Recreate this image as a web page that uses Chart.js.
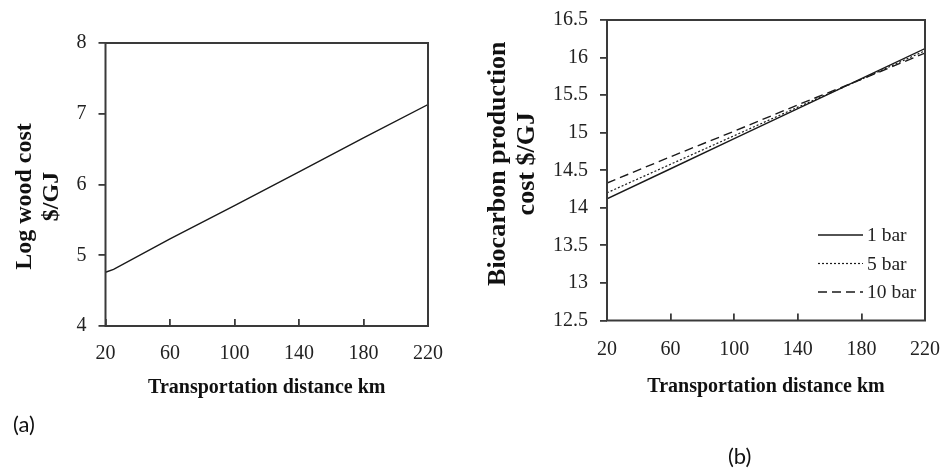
<!DOCTYPE html>
<html><head><meta charset="utf-8">
<script src="https://cdn.jsdelivr.net/npm/chart.js@4.4.0/dist/chart.umd.min.js"></script>
<style>
html,body{margin:0;padding:0;background:#fff;}
body{width:943px;height:469px;position:relative;overflow:hidden;}
#wa{position:absolute;left:0;top:0;width:470px;height:469px;}
#wb{position:absolute;left:470px;top:0;width:473px;height:469px;}
.pl{position:absolute;font-family:Lato,"Open Sans",sans-serif;font-size:22px;color:#111;line-height:1;}
</style></head><body>
<div id="wa"><canvas id="ca"></canvas></div>
<div id="wb"><canvas id="cb"></canvas></div>
<div class="pl" style="left:13px;top:413px;">(a)</div>
<div class="pl" style="left:728px;top:445px;">(b)</div>
<script>
// ---- data ----
const distanceA = [20, 25, 60, 100, 140, 180, 220];
const logWoodCost = [4.76, 4.80, 5.23, 5.70, 6.18, 6.66, 7.13];
const distanceB = [20, 60, 100, 140, 180, 220];
const cost1bar = [14.12, 14.52, 14.92, 15.32, 15.72, 16.12];
const cost5bar = [14.20, 14.58, 14.96, 15.34, 15.71, 16.09];
const cost10bar = [14.33, 14.68, 15.02, 15.37, 15.71, 16.06];
const seriesNamesB = ['1 bar', '5 bar', '10 bar'];
const xTickLabels = ['20', '60', '100', '140', '180', '220'];
const yTickLabelsA = ['4', '5', '6', '7', '8'];
const yTickLabelsB = ['12.5', '13', '13.5', '14', '14.5', '15', '15.5', '16', '16.5'];

const pts = (xs, ys) => xs.map((x, i) => ({x: x, y: ys[i]}));
const SERIF = '"Liberation Serif", Tinos, "Times New Roman", "DejaVu Serif", serif';
const FRAME = '#3a3a3a';

const framePlugin = {
  id: 'frame',
  afterDatasetsDraw(chart) {
    const {ctx, chartArea: a} = chart;
    ctx.save();
    ctx.strokeStyle = FRAME;
    ctx.lineWidth = 2;
    ctx.strokeRect(a.left, a.top, a.right - a.left, a.bottom - a.top);
    ctx.restore();
  }
};

const legendPlugin = {
  id: 'legendB',
  afterDraw(chart) {
    const ctx = chart.ctx;
    ctx.save();
    ctx.font = '19.5px ' + SERIF;
    ctx.textBaseline = 'middle';
    ctx.fillStyle = '#222';
    chart.data.datasets.forEach((ds, i) => {
      const y = 235 + i * 28.5;
      ctx.strokeStyle = ds.borderColor;
      ctx.lineWidth = ds.borderWidth;
      ctx.setLineDash(ds.borderDash || []);
      ctx.beginPath();
      ctx.moveTo(348, y);
      ctx.lineTo(393, y);
      ctx.stroke();
      ctx.setLineDash([]);
      ctx.fillText(ds.label, 397, y + 1);
    });
    ctx.restore();
  }
};

function makeOptions(o) {
  return {
    responsive: true,
    maintainAspectRatio: false,
    animation: false,
    layout: {padding: o.padding},
    plugins: {legend: {display: false}, tooltip: {enabled: false}},
    elements: {point: {radius: 0}, line: {tension: 0}},
    scales: {
      x: {
        type: 'linear', min: 20, max: 220,
        ticks: {stepSize: 40, color: '#222', font: {family: SERIF, size: 20}, padding: o.xPad,
                maxRotation: 0, autoSkip: false, callback: (v, i) => xTickLabels[i]},
        grid: {drawOnChartArea: false, drawTicks: true, tickLength: -7, tickColor: FRAME, lineWidth: 1.8},
        border: {display: false},
        title: {display: true, text: 'Transportation distance km', color: '#111',
                font: {family: SERIF, size: 20, weight: 'bold'}, padding: 0},
        afterFit(s) { s.height = o.xHeight; s.paddingLeft = 0; s.paddingRight = 0; }
      },
      y: {
        type: 'linear', min: o.yMin, max: o.yMax,
        ticks: {stepSize: o.yStep, color: '#222', font: {family: SERIF, size: 20}, padding: 12,
                callback: (v, i) => o.yLabels[i]},
        grid: {drawOnChartArea: false, drawTicks: true, tickLength: 7, tickColor: FRAME, lineWidth: 1.8},
        border: {display: false},
        title: {display: true, text: o.yTitle, color: '#111',
                font: {family: SERIF, size: o.yTitleSize, weight: 'bold', lineHeight: 1.12},
                padding: {top: o.yTitlePad, bottom: 0}},
        afterFit(s) { s.width = o.yWidth; s.paddingTop = 0; s.paddingBottom = 0; }
      }
    }
  };
}

function build() {
  new Chart(document.getElementById('ca'), {
    type: 'line',
    data: {datasets: [{label: 'Log wood cost', data: pts(distanceA, logWoodCost),
            borderColor: '#1a1a1a', borderWidth: 1.4, fill: false}]},
    options: makeOptions({padding: {left: 0, right: 42, top: 43, bottom: 69}, xHeight: 74, xPad: 23,
      yMin: 4, yMax: 8, yStep: 1, yLabels: yTickLabelsA, yTitle: ['Log wood cost    ', '$/GJ    '],
      yTitleSize: 24, yTitlePad: 11.5, yWidth: 105.5}),
    plugins: [framePlugin]
  });

  new Chart(document.getElementById('cb'), {
    type: 'line',
    data: {datasets: [
      {label: seriesNamesB[0], data: pts(distanceB, cost1bar), borderColor: '#1a1a1a', borderWidth: 1.4, fill: false},
      {label: seriesNamesB[1], data: pts(distanceB, cost5bar), borderColor: '#1a1a1a', borderWidth: 1.2, borderDash: [2, 2], fill: false},
      {label: seriesNamesB[2], data: pts(distanceB, cost10bar), borderColor: '#1a1a1a', borderWidth: 1.4, borderDash: [9, 5], fill: false}
    ]},
    options: makeOptions({padding: {left: 0, right: 18, top: 20, bottom: 70}, xHeight: 78.5, xPad: 24,
      yMin: 12.5, yMax: 16.5, yStep: 0.5, yLabels: yTickLabelsB, yTitle: ['  Biocarbon production', '  cost $/GJ'],
      yTitleSize: 26, yTitlePad: 14, yWidth: 137}),
    plugins: [framePlugin, legendPlugin]
  });
}

Promise.all([
  document.fonts.load('20px "Liberation Serif"'),
  document.fonts.load('bold 20px "Liberation Serif"')
]).then(build, build);
</script>
</body></html>
